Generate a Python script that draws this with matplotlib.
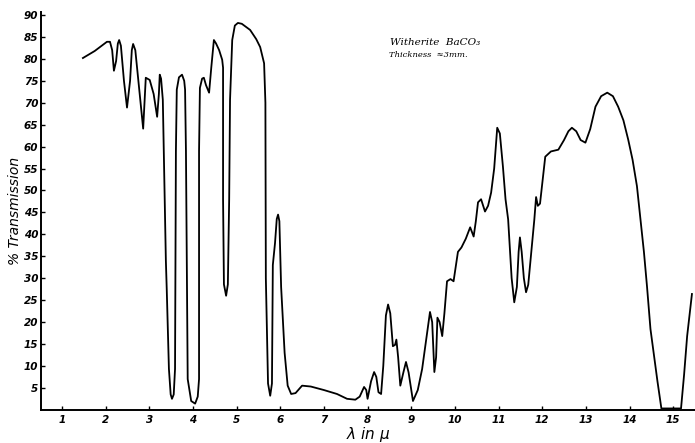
import numpy as np
import matplotlib
matplotlib.use("Agg")
import matplotlib.pyplot as plt

# wavelength (micron) and % transmission
wavelength = [1.48, 1.75, 2.03, 2.10, 2.15, 2.19, 2.24, 2.28, 2.31, 2.35,
              2.42, 2.49, 2.56, 2.60, 2.63, 2.68, 2.78, 2.86, 2.89, 2.92,
              3.01, 3.10, 3.18, 3.22, 3.24, 3.27, 3.31, 3.38, 3.40, 3.45,
              3.49, 3.52, 3.56, 3.59, 3.61, 3.63, 3.68, 3.75, 3.80, 3.82,
              3.84, 3.88, 3.96, 4.05, 4.11, 4.14, 4.14, 4.16, 4.21, 4.25,
              4.30, 4.37, 4.42, 4.48, 4.53, 4.60, 4.67, 4.69, 4.69, 4.71,
              4.76, 4.80, 4.83, 4.85, 4.90, 4.96, 5.03, 5.12, 5.31, 5.45,
              5.54, 5.63, 5.66, 5.67, 5.72, 5.77, 5.81, 5.83, 5.85, 5.88,
              5.92, 5.95, 5.98, 6.02, 6.10, 6.17, 6.25, 6.35, 6.50, 6.70,
              7.00, 7.30, 7.53, 7.72, 7.82, 7.92, 7.97, 8.00, 8.08, 8.15,
              8.20, 8.25, 8.31, 8.36, 8.42, 8.47, 8.52, 8.58, 8.63, 8.66,
              8.70, 8.75, 8.82, 8.88, 8.94, 9.04, 9.15, 9.25, 9.35, 9.43,
              9.48, 9.53, 9.57, 9.60, 9.65, 9.71, 9.76, 9.82, 9.90, 9.97,
              10.07, 10.15, 10.25, 10.35, 10.43, 10.48, 10.53, 10.60, 10.69, 10.76,
              10.83, 10.90, 10.97, 11.03, 11.10, 11.16, 11.22, 11.30, 11.36, 11.42,
              11.46, 11.49, 11.53, 11.58, 11.63, 11.68, 11.75, 11.82, 11.86, 11.90,
              11.95, 12.07, 12.20, 12.37, 12.50, 12.60, 12.68, 12.78, 12.88, 12.99,
              13.10, 13.22, 13.35, 13.49, 13.62, 13.74, 13.86, 13.97, 14.07, 14.17,
              14.25, 14.33, 14.40, 14.48, 14.55, 14.64, 14.73, 14.95, 15.18, 15.25,
              15.32, 15.43]

transmission = [80.2, 81.8, 83.9, 83.9, 82.0, 77.3, 79.5, 83.5, 84.3, 83.0,
                75.0, 68.9, 75.0, 82.0, 83.4, 82.0, 72.0, 64.1, 70.0, 75.7,
                75.2, 72.0, 66.8, 72.0, 76.4, 75.5, 70.7, 34.0, 27.5, 9.3,
                3.5, 2.5, 3.5, 9.3, 59.0, 73.0, 75.8, 76.4, 75.0, 73.0,
                59.0, 7.0, 2.0, 1.4, 3.0, 7.0, 59.0, 73.4, 75.5, 75.7,
                74.0, 72.3, 78.0, 84.3, 83.5, 82.0, 79.8, 78.0, 48.0, 28.6,
                26.0, 28.6, 48.0, 70.7, 84.3, 87.6, 88.2, 88.0, 86.6, 84.5,
                82.7, 79.0, 70.0, 30.0, 6.0, 3.2, 6.0, 33.0, 35.0, 38.0,
                43.5, 44.5, 43.0, 28.0, 13.0, 5.5, 3.6, 3.8, 5.5, 5.3,
                4.5, 3.6, 2.5, 2.3, 3.0, 5.2, 4.5, 2.5, 6.5, 8.6,
                7.5, 4.0, 3.6, 10.0, 21.5, 24.0, 22.0, 14.5, 14.8, 16.0,
                12.0, 5.5, 8.5, 10.9, 8.5, 2.0, 4.5, 9.3, 16.5, 22.3,
                20.0, 8.6, 12.0, 21.0, 20.0, 16.8, 22.0, 29.3, 29.8, 29.3,
                36.0, 37.0, 39.0, 41.6, 39.5, 43.0, 47.3, 48.0, 45.2, 46.5,
                49.5, 55.0, 64.3, 63.0, 55.5, 48.0, 43.4, 30.0, 24.5, 28.0,
                36.0, 39.3, 36.0, 30.0, 26.8, 28.5, 36.0, 43.4, 48.5, 46.5,
                47.0, 57.7, 58.9, 59.3, 61.5, 63.5, 64.3, 63.5, 61.5, 60.9,
                64.0, 69.1, 71.5, 72.3, 71.5, 69.1, 66.0, 61.6, 57.0, 51.0,
                43.4, 36.0, 28.2, 18.4, 13.2, 6.5, 0.3, 0.3, 0.3, 8.0,
                16.8, 26.4]

x_ticks = list(range(1, 16))
y_ticks = list(range(5, 95, 5))


def main():
    fig = plt.figure(figsize=(6.95, 4.43), dpi=100)
    ax = fig.add_axes([0.059, 0.075, 0.941, 0.897])

    ax.plot(wavelength, transmission, color="black", lw=1.3,
            solid_joinstyle="round")

    ax.set_xlim(0.52, 15.5)
    ax.set_ylim(0, 90.6)
    ax.set_xticks(x_ticks)
    ax.set_yticks(y_ticks)
    ax.set_xticklabels([str(t) for t in x_ticks], fontstyle="italic",
                       fontweight="bold", fontsize=7.5)
    ax.set_yticklabels([str(t) for t in y_ticks], fontstyle="italic",
                       fontweight="bold", fontsize=7.5)
    ax.tick_params(axis="x", direction="in", length=3, width=1, pad=4)
    ax.tick_params(axis="y", direction="in", length=3, width=1, pad=2)

    for side in ("top", "right"):
        ax.spines[side].set_visible(False)
    for side in ("left", "bottom"):
        ax.spines[side].set_linewidth(1.4)

    ax.set_ylabel("% Transmission", fontstyle="italic", fontsize=10,
                  labelpad=1)
    ax.set_xlabel(r"$\lambda$ in $\mu$", fontstyle="italic", fontsize=11,
                  labelpad=0)

    # handwritten note
    ax.text(0.534, 0.918, "Witherite  BaCO\u2083", transform=ax.transAxes,
            family="DejaVu Serif", fontstyle="italic", fontsize=7.5)
    ax.text(0.532, 0.887, "Thickness  \u22483mm.", transform=ax.transAxes,
            family="DejaVu Serif", fontstyle="italic", fontsize=6)

    fig.savefig("out.png", dpi=100)


if __name__ == "__main__":
    main()
